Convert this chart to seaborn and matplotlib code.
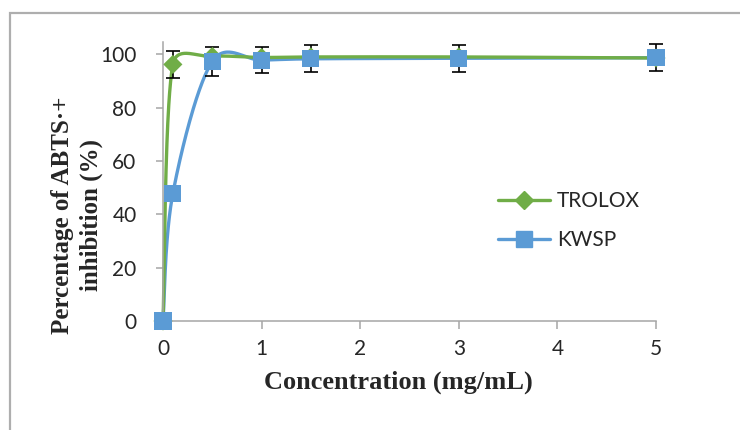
import numpy as np
import pandas as pd
import matplotlib
matplotlib.use("Agg")
import matplotlib.pyplot as plt
from matplotlib.lines import Line2D
from matplotlib.patches import Rectangle
import seaborn as sns

# data
conc = [0, 0.1, 0.5, 1, 1.5, 3, 5]
trolox = [0, 96.2, 99.2, 98.8, 99.0, 99.0, 98.6]
trolox_err = [0, 5.0, 1.0, 1.0, 1.0, 1.0, 1.0]
kwsp = [0, 47.8, 97.3, 97.8, 98.3, 98.5, 98.7]
kwsp_err = [0, 1.0, 5.6, 5.0, 5.0, 5.0, 5.0]
series_names = ["TROLOX", "KWSP"]
series_colors = ["#70AD47", "#5B9BD5"]

sns.set_theme(style="white")
plt.rcParams["font.family"] = ["Lato", "DejaVu Sans"]

fig = plt.figure(figsize=(7.4, 4.3), dpi=100)
ax = fig.add_axes([163 / 740, 1 - 321 / 430, (656 - 163) / 740, (321 - 42) / 430])
ax.set_xlim(0, 5)
ax.set_ylim(0, 104.6)


def excel_smooth(ax, xs, ys, n=60):
    # Excel-like bezier smoothing, computed in pixel space
    pts = ax.transData.transform(np.column_stack([xs, ys]))
    out = []
    m = len(pts)
    t = np.linspace(0, 1, n)[:, None]
    for i in range(m - 1):
        p0 = pts[max(i - 1, 0)]
        p1 = pts[i]
        p2 = pts[i + 1]
        p3 = pts[min(i + 2, m - 1)]
        half = np.linalg.norm(p2 - p1) / 2
        v1 = (p2 - p0) / 6
        v2 = (p3 - p1) / 6
        if np.linalg.norm(v1) > half:
            v1 = v1 * half / np.linalg.norm(v1)
        if np.linalg.norm(v2) > half:
            v2 = v2 * half / np.linalg.norm(v2)
        c1 = p1 + v1
        c2 = p2 - v2
        seg = ((1 - t) ** 3) * p1 + 3 * t * (1 - t) ** 2 * c1 + 3 * t ** 2 * (1 - t) * c2 + t ** 3 * p2
        out.append(seg if i == 0 else seg[1:])
    curve = ax.transData.inverted().transform(np.vstack(out))
    return pd.DataFrame({"x": curve[:, 0], "y": curve[:, 1]})


for vals, color in zip([kwsp, trolox], series_colors[::-1]):
    curve = excel_smooth(ax, conc, vals)
    sns.lineplot(data=curve, x="x", y="y", sort=False, color=color, lw=2.4,
                 ax=ax, zorder=2, clip_on=False)

for vals, errs in zip([trolox, kwsp], [trolox_err, kwsp_err]):
    ax.errorbar(conc, vals, yerr=errs, fmt="none", ecolor="black", elinewidth=1.2,
                capsize=5, capthick=1.2, zorder=3, clip_on=False)

df_t = pd.DataFrame({"x": conc, "y": trolox})
df_k = pd.DataFrame({"x": conc, "y": kwsp})
sns.scatterplot(data=df_t, x="x", y="y", marker="D", s=95, color=series_colors[0],
                edgecolor="none", ax=ax, zorder=4, clip_on=False)
sns.scatterplot(data=df_k, x="x", y="y", marker="s", s=150, color=series_colors[1],
                edgecolor="none", ax=ax, zorder=5, clip_on=False)

ax.set_xticks([0, 1, 2, 3, 4, 5])
ax.set_yticks([0, 20, 40, 60, 80, 100])
ax.set_xlabel("")
ax.set_ylabel("")
for side in ["top", "right"]:
    ax.spines[side].set_visible(False)
for side in ["left", "bottom"]:
    ax.spines[side].set_color("#A6A6A6")
    ax.spines[side].set_linewidth(1.1)
ax.tick_params(axis="x", direction="out", length=6, width=1.1, color="#A6A6A6",
               labelsize=15, pad=7, bottom=True)
ax.tick_params(axis="y", direction="out", length=5, width=1.1, color="#A6A6A6",
               labelsize=15, pad=14, left=True)

serif = ["Liberation Serif", "DejaVu Serif"]
fig.text(398 / 740, 1 - 382 / 430, "Concentration (mg/mL)", ha="center", va="center",
         family=serif, weight="bold", size=19)
fig.text(77 / 740, 1 - 215 / 430, "Percentage of ABTS·+\ninhibition (%)", rotation=90,
         ha="center", va="center", multialignment="center", linespacing=1.3,
         family=serif, weight="bold", size=18)

handles = [
    Line2D([], [], color=series_colors[0], lw=2.4, marker="D", markersize=9),
    Line2D([], [], color=series_colors[1], lw=2.4, marker="s", markersize=12),
]
fig.legend(handles, series_names, loc="upper left", bbox_to_anchor=(490 / 740, 1 - 183 / 430),
           frameon=False, fontsize=15, handlelength=2.5, handletextpad=0.3,
           labelspacing=0.9, borderaxespad=0)

fig.patches.append(Rectangle((10 / 740, -0.1), 1.2, 1.1 - 13 / 430, transform=fig.transFigure,
                             fill=False, edgecolor="#AEAEAE", lw=1.6, clip_on=False))

fig.savefig("out.png", dpi=100)
